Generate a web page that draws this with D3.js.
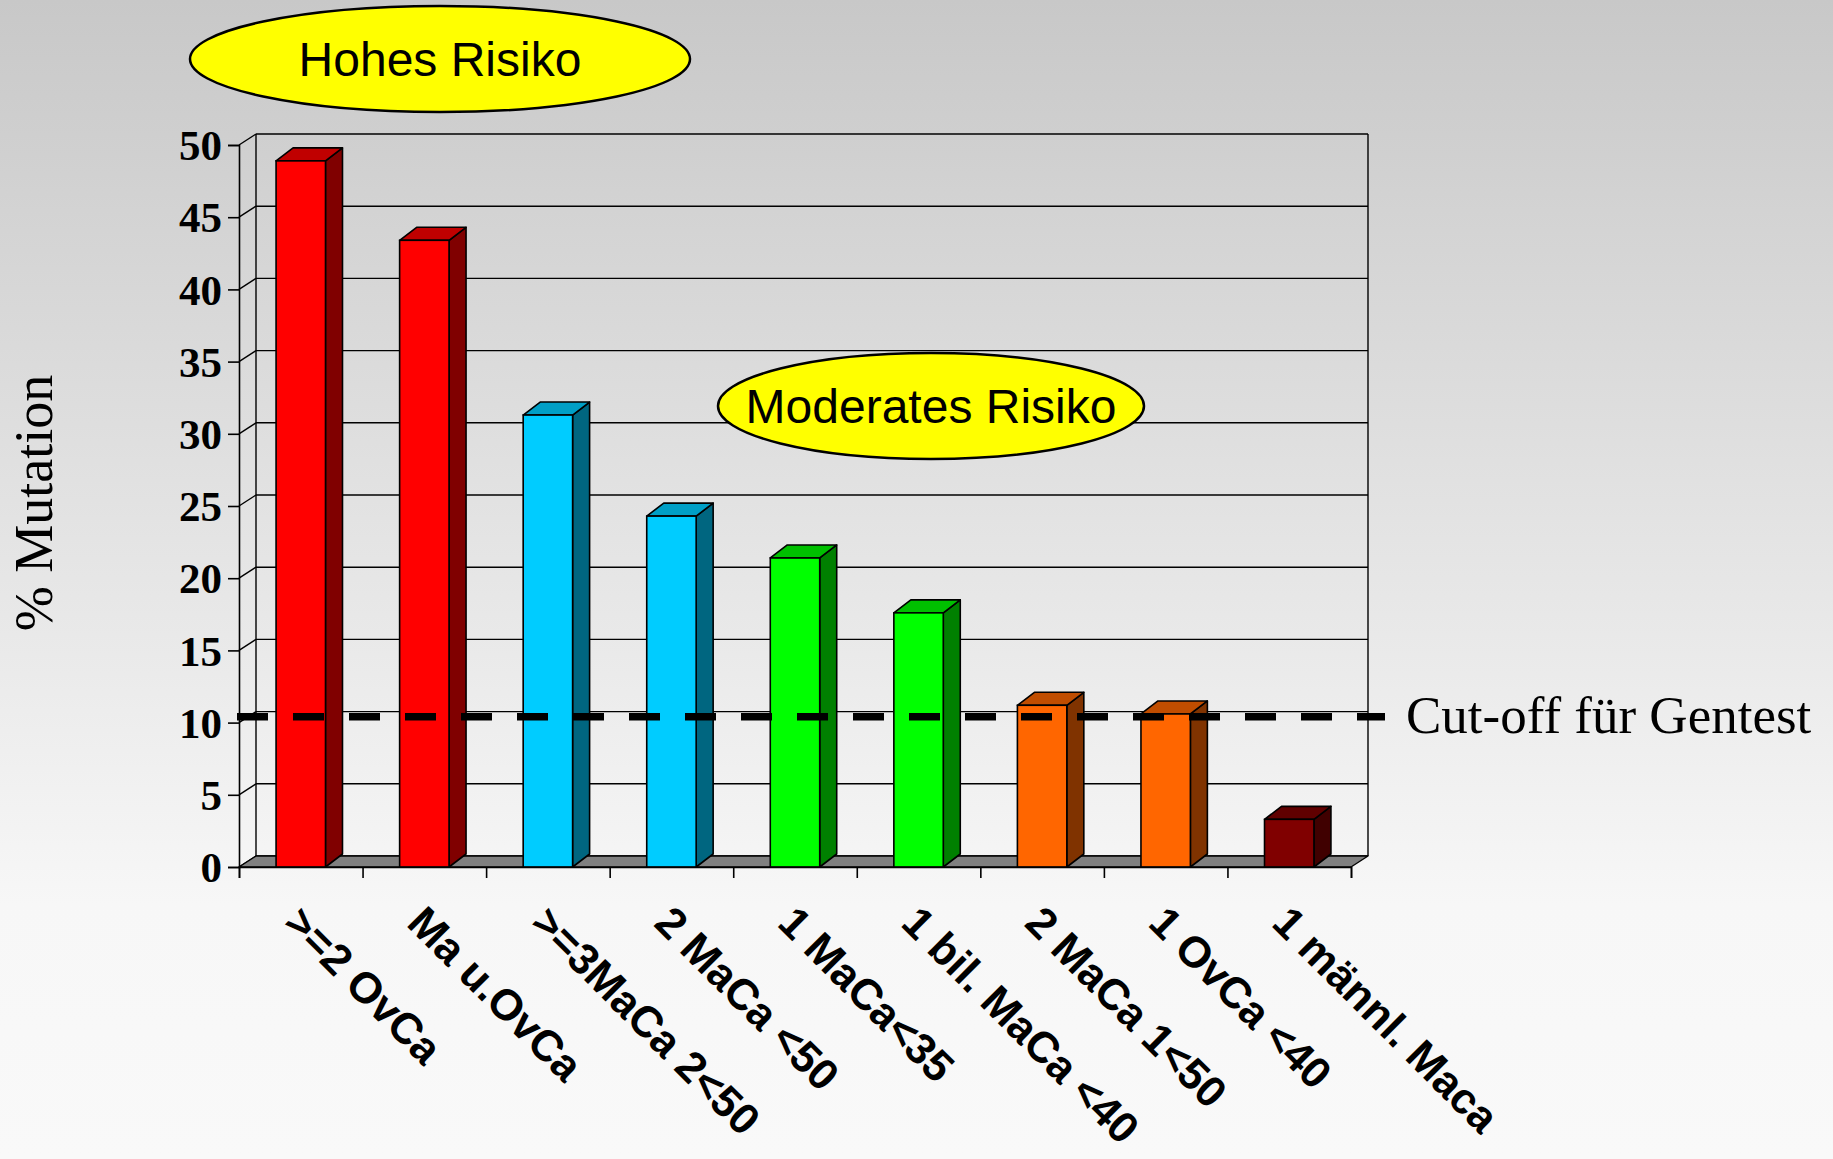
<!DOCTYPE html>
<html>
<head>
<meta charset="utf-8">
<script src="https://cdn.jsdelivr.net/npm/d3@7"></script>
<style>
  html, body { margin: 0; padding: 0; overflow: hidden; background: #f8f8f8; }
  svg { display: block; }
</style>
</head>
<body>
<svg id="chart" width="1833" height="1159"></svg>
<script>
// ---- data ----
const categories = [">=2 OvCa", "Ma u.OvCa", ">=3MaCa 2<50", "2 MaCa <50", "1 MaCa<35",
                    "1 bil. MaCa <40", "2 MaCa 1<50", "1 OvCa <40", "1 männl. Maca"];
const mutationPercent = [48.9, 43.4, 31.3, 24.3, 21.4, 17.6, 11.2, 10.6, 3.3];
const colourGroup = ["rot", "rot", "cyan", "cyan", "gruen", "gruen", "orange", "orange", "dunkelrot"];
const yTicks = [0, 5, 10, 15, 20, 25, 30, 35, 40, 45, 50];
const cutoffPercent = 10.4;
const cutoffLabel = "Cut-off für Gentest";
const yTitle = "% Mutation";
const riskLabels = ["Hohes Risiko", "Moderates Risiko"];

// front / top / side shades for each colour group
const palette = {
  rot:       { front: "#ff0000", top: "#c00000", side: "#800000" },
  cyan:      { front: "#00ccff", top: "#009fc6", side: "#006680" },
  gruen:     { front: "#00ff00", top: "#00c000", side: "#008000" },
  orange:    { front: "#ff6600", top: "#c04d00", side: "#803300" },
  dunkelrot: { front: "#800000", top: "#600000", side: "#400000" }
};

// ---- layout ----
const W = 1833, H = 1159;
const plot = { left: 239, right: 1351, top: 145, bottom: 867 };
const wallDx = 17, wallDy = 11;   // depth of back wall / floor
const barDx = 17, barDy = 13;     // depth of each column

const svg = d3.select("#chart");

// background gradient
const defs = svg.append("defs");
const grad = defs.append("linearGradient").attr("id", "bg")
  .attr("x1", 0).attr("y1", 0).attr("x2", 0).attr("y2", 1);
grad.append("stop").attr("offset", "0%").attr("stop-color", "#c8c8c8");
grad.append("stop").attr("offset", "78%").attr("stop-color", "#f7f7f7");
grad.append("stop").attr("offset", "100%").attr("stop-color", "#f9f9f9");
svg.append("rect").attr("width", W).attr("height", H).attr("fill", "url(#bg)");

const y = d3.scaleLinear().domain([0, 50]).range([plot.bottom, plot.top]);
const x = d3.scaleBand().domain(categories).range([plot.left, plot.right])
  .paddingInner(0.6).paddingOuter(0.3);
const xEdge = d3.scaleLinear().domain([0, categories.length]).range([plot.left, plot.right]);

const g = svg.append("g");

// back wall gridlines
g.append("g").selectAll("line").data(yTicks).join("line")
  .attr("x1", plot.left + wallDx).attr("x2", plot.right + wallDx)
  .attr("y1", d => y(d) - wallDy).attr("y2", d => y(d) - wallDy)
  .attr("stroke", "#000").attr("stroke-width", 1.4);

// back wall verticals
g.append("line")
  .attr("x1", plot.left + wallDx).attr("x2", plot.left + wallDx)
  .attr("y1", y(50) - wallDy).attr("y2", y(0) - wallDy)
  .attr("stroke", "#000").attr("stroke-width", 1.4);
g.append("line")
  .attr("x1", plot.right + wallDx).attr("x2", plot.right + wallDx)
  .attr("y1", y(50) - wallDy).attr("y2", y(0) - wallDy)
  .attr("stroke", "#000").attr("stroke-width", 1.4);

// side wall diagonals
g.append("g").selectAll("line").data(yTicks).join("line")
  .attr("x1", plot.left).attr("x2", plot.left + wallDx)
  .attr("y1", d => y(d)).attr("y2", d => y(d) - wallDy)
  .attr("stroke", "#000").attr("stroke-width", 1.4);

// floor
g.append("path")
  .attr("d", `M${plot.left},${y(0)} L${plot.left + wallDx},${y(0) - wallDy} L${plot.right + wallDx},${y(0) - wallDy} L${plot.right},${y(0)} Z`)
  .attr("fill", "#808080").attr("stroke", "#000").attr("stroke-width", 1.4)
  .attr("stroke-linejoin", "round");

// columns
const bars = g.append("g").selectAll("g").data(categories.map((c, i) => ({ c, v: mutationPercent[i], col: palette[colourGroup[i]] })))
  .join("g");
const bw = x.bandwidth();
bars.append("path") // side face
  .attr("d", d => {
    const x0 = x(d.c) + bw, yt = y(d.v), yb = y(0);
    return `M${x0},${yt} L${x0 + barDx},${yt - barDy} L${x0 + barDx},${yb - barDy} L${x0},${yb} Z`;
  })
  .attr("fill", d => d.col.side).attr("stroke", "#000").attr("stroke-width", 1.6).attr("stroke-linejoin", "round");
bars.append("path") // top face
  .attr("d", d => {
    const x0 = x(d.c), yt = y(d.v);
    return `M${x0},${yt} L${x0 + barDx},${yt - barDy} L${x0 + bw + barDx},${yt - barDy} L${x0 + bw},${yt} Z`;
  })
  .attr("fill", d => d.col.top).attr("stroke", "#000").attr("stroke-width", 1.6).attr("stroke-linejoin", "round");
bars.append("rect") // front face
  .attr("x", d => x(d.c)).attr("y", d => y(d.v))
  .attr("width", bw).attr("height", d => y(0) - y(d.v))
  .attr("fill", d => d.col.front).attr("stroke", "#000").attr("stroke-width", 1.6);

// y axis
const yAxis = g.append("g").attr("transform", `translate(${plot.left},0)`)
  .call(d3.axisLeft(y).tickValues(yTicks).tickSize(11).tickPadding(6).tickFormat(d3.format("d")));
yAxis.select(".domain").attr("stroke", "#000").attr("stroke-width", 1.6);
yAxis.selectAll(".tick line").attr("stroke", "#000").attr("stroke-width", 1.6);
yAxis.selectAll(".tick text")
  .attr("font-family", "'Liberation Serif', 'Times New Roman', serif")
  .attr("font-weight", "bold").attr("font-size", 43).attr("fill", "#000")
  .attr("dy", "0.34em");

// x axis (tick marks at category boundaries)
const xAxis = g.append("g").attr("transform", `translate(0,${y(0)})`)
  .call(d3.axisBottom(xEdge).tickValues(d3.range(categories.length + 1)).tickSize(11).tickFormat(""));
xAxis.select(".domain").attr("stroke", "#000").attr("stroke-width", 1.6);
xAxis.selectAll(".tick line").attr("stroke", "#000").attr("stroke-width", 1.6);

// category labels, rotated
g.append("g").selectAll("text").data(categories).join("text")
  .attr("transform", d => `translate(${x(d) + bw / 2 - 19},${925}) rotate(45)`)
  .attr("font-family", "'Liberation Sans', Arial, sans-serif")
  .attr("font-weight", "bold").attr("font-size", 43.5).attr("fill", "#000")
  .text(d => d);

// cut-off line
g.append("line")
  .attr("x1", plot.left - 2).attr("x2", plot.right + 34)
  .attr("y1", y(cutoffPercent)).attr("y2", y(cutoffPercent))
  .attr("stroke", "#000").attr("stroke-width", 7.5).attr("stroke-dasharray", "31 25");
g.append("text")
  .attr("x", plot.right + 55).attr("y", y(cutoffPercent) + 16)
  .attr("font-family", "'Liberation Serif', 'Times New Roman', serif")
  .attr("font-size", 53).attr("fill", "#000")
  .text(cutoffLabel);

// y axis title
g.append("text")
  .attr("transform", `translate(52,503) rotate(-90)`)
  .attr("text-anchor", "middle")
  .attr("font-family", "'Liberation Serif', 'Times New Roman', serif")
  .attr("font-size", 54).attr("fill", "#000")
  .text(yTitle);

// risk callouts
const callouts = [
  { text: riskLabels[0], cx: 440, cy: 59, rx: 250, ry: 53 },
  { text: riskLabels[1], cx: 931, cy: 406, rx: 213, ry: 53 }
];
const co = g.append("g").selectAll("g").data(callouts).join("g");
co.append("ellipse")
  .attr("cx", d => d.cx).attr("cy", d => d.cy).attr("rx", d => d.rx).attr("ry", d => d.ry)
  .attr("fill", "#ffff00").attr("stroke", "#000").attr("stroke-width", 2.5);
co.append("text")
  .attr("x", d => d.cx).attr("y", d => d.cy + 17)
  .attr("text-anchor", "middle")
  .attr("font-family", "'Liberation Sans', Arial, sans-serif")
  .attr("font-size", 48).attr("fill", "#000")
  .text(d => d.text);
</script>
</body>
</html>
